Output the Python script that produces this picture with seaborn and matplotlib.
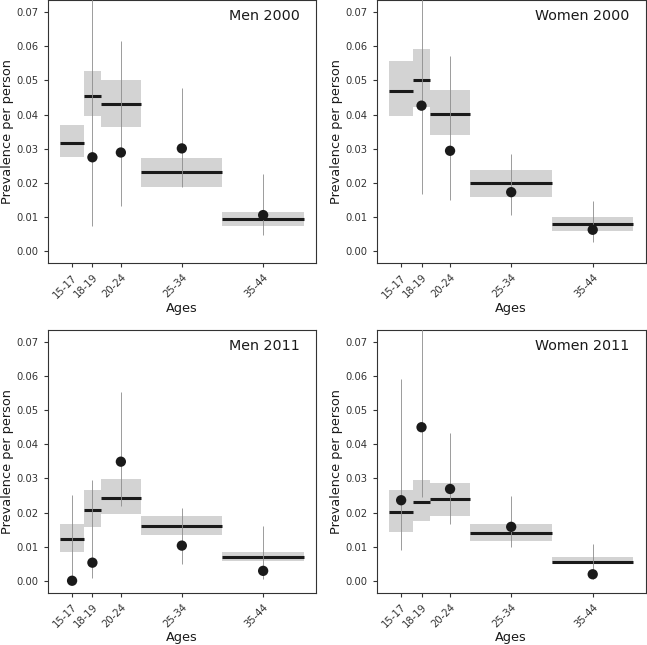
# prevalence per person by age group, men and women, 2000 and 2011
import matplotlib
matplotlib.use("Agg")
import matplotlib.pyplot as plt
import seaborn as sns
import numpy as np
import pandas as pd

# age groups
age_labels = ["15-17", "18-19", "20-24", "25-34", "35-44"]
age_lo = [15, 18, 20, 25, 35]
age_hi = [18, 20, 25, 35, 45]

# model estimates (line) with interval (grey box)
men2000_est = [0.0317, 0.0454, 0.0431, 0.0231, 0.0095]
men2000_lo = [0.0276, 0.0396, 0.0365, 0.0187, 0.0073]
men2000_hi = [0.0369, 0.0526, 0.0502, 0.0274, 0.0116]
# observed values (dots) with interval (thin lines)
men2000_obs = [np.nan, 0.0275, 0.0289, 0.0301, 0.0106]
men2000_obs_lo = [np.nan, 0.0073, 0.0132, 0.0187, 0.0047]
men2000_obs_hi = [np.nan, 0.0900, 0.0616, 0.0478, 0.0227]

women2000_est = [0.0469, 0.0501, 0.0401, 0.0200, 0.0079]
women2000_lo = [0.0396, 0.0422, 0.0339, 0.0159, 0.0060]
women2000_hi = [0.0557, 0.0592, 0.0471, 0.0239, 0.0099]
women2000_obs = [np.nan, 0.0426, 0.0294, 0.0173, 0.0063]
women2000_obs_lo = [np.nan, 0.0168, 0.0149, 0.0105, 0.0026]
women2000_obs_hi = [np.nan, 0.0900, 0.0570, 0.0285, 0.0146]

men2011_est = [0.0121, 0.0206, 0.0244, 0.0161, 0.0070]
men2011_lo = [0.0085, 0.0157, 0.0195, 0.0134, 0.0057]
men2011_hi = [0.0165, 0.0265, 0.0297, 0.0189, 0.0085]
men2011_obs = [0.0000, 0.0053, 0.0349, 0.0103, 0.0029]
men2011_obs_lo = [0.0000, 0.0007, 0.0218, 0.0050, 0.0005]
men2011_obs_hi = [0.0251, 0.0295, 0.0553, 0.0214, 0.0161]

women2011_est = [0.0201, 0.0232, 0.0240, 0.0140, 0.0056]
women2011_lo = [0.0144, 0.0176, 0.0191, 0.0116, 0.0050]
women2011_hi = [0.0265, 0.0296, 0.0287, 0.0167, 0.0070]
women2011_obs = [0.0236, 0.0450, 0.0269, 0.0158, 0.0019]
women2011_obs_lo = [0.0090, 0.0245, 0.0166, 0.0099, 0.0005]
women2011_obs_hi = [0.0591, 0.0900, 0.0432, 0.0249, 0.0108]

panels = [
    ("Men 2000", men2000_est, men2000_lo, men2000_hi, men2000_obs, men2000_obs_lo, men2000_obs_hi),
    ("Women 2000", women2000_est, women2000_lo, women2000_hi, women2000_obs, women2000_obs_lo, women2000_obs_hi),
    ("Men 2011", men2011_est, men2011_lo, men2011_hi, men2011_obs, men2011_obs_lo, men2011_obs_hi),
    ("Women 2011", women2011_est, women2011_lo, women2011_hi, women2011_obs, women2011_obs_lo, women2011_obs_hi),
]

sns.set_style("ticks")
plt.rcParams['font.family'] = ['DejaVu Sans']

fig = plt.figure(figsize=(6.47, 6.45), dpi=100)
positions = [
    [0.0737, 0.5918, 0.4147, 0.4082],
    [0.5822, 0.5918, 0.4158, 0.4082],
    [0.0737, 0.0811, 0.4147, 0.4073],
    [0.5822, 0.0811, 0.4158, 0.4073],
]

dark = "#1a1a1a"

for pos, (name, est, lo, hi, obs, obs_lo, obs_hi) in zip(positions, panels):
    ax = fig.add_axes(pos)
    df = pd.DataFrame({
        "age": age_labels, "start": age_lo, "end": age_hi,
        "est": est, "lo": lo, "hi": hi,
        "obs": obs, "obs_lo": obs_lo, "obs_hi": obs_hi,
    })
    df["mid"] = (df["start"] + df["end"]) / 2
    df["width"] = df["end"] - df["start"]

    # grey interval boxes
    ax.bar(df["start"], df["hi"] - df["lo"], width=df["width"], bottom=df["lo"],
           align="edge", color="#d3d3d3", linewidth=0, zorder=1)
    # estimate lines
    ax.hlines(df["est"], df["start"], df["end"], color=dark, linewidth=2.2, zorder=2)
    # observed intervals
    ax.vlines(df["mid"], df["obs_lo"], df["obs_hi"], color="#8c8c8c", linewidth=0.6, zorder=3)
    # observed points
    sns.scatterplot(data=df, x="mid", y="obs", ax=ax, color=dark, s=55,
                    edgecolor="none", zorder=4)

    ax.set_xlim(13.5, 46.5)
    ax.set_ylim(-0.0035, 0.0735)
    ax.set_yticks(np.arange(0, 0.071, 0.01))
    ax.set_yticklabels([f"{v:.2f}" for v in np.arange(0, 0.071, 0.01)], fontsize=7.2, color="#333333")
    ax.set_xticks(df["mid"])
    ax.set_xticklabels(age_labels, rotation=45, ha="right", rotation_mode="anchor",
                       fontsize=7.2, color="#333333")
    ax.tick_params(length=3, width=0.8, color="#333333")
    for sp in ax.spines.values():
        sp.set_visible(True)
        sp.set_color("#333333")
        sp.set_linewidth(0.8)
    ax.set_xlabel("Ages", fontsize=9.3, color="#1a1a1a", labelpad=1.5)
    ax.set_ylabel("Prevalence per person", fontsize=9.3, color="#1a1a1a", labelpad=2)
    ax.text(0.94, 0.94, name, transform=ax.transAxes, ha="right", va="center",
            fontsize=10.3, color="#1a1a1a")

plt.savefig("out.png", dpi=100)
